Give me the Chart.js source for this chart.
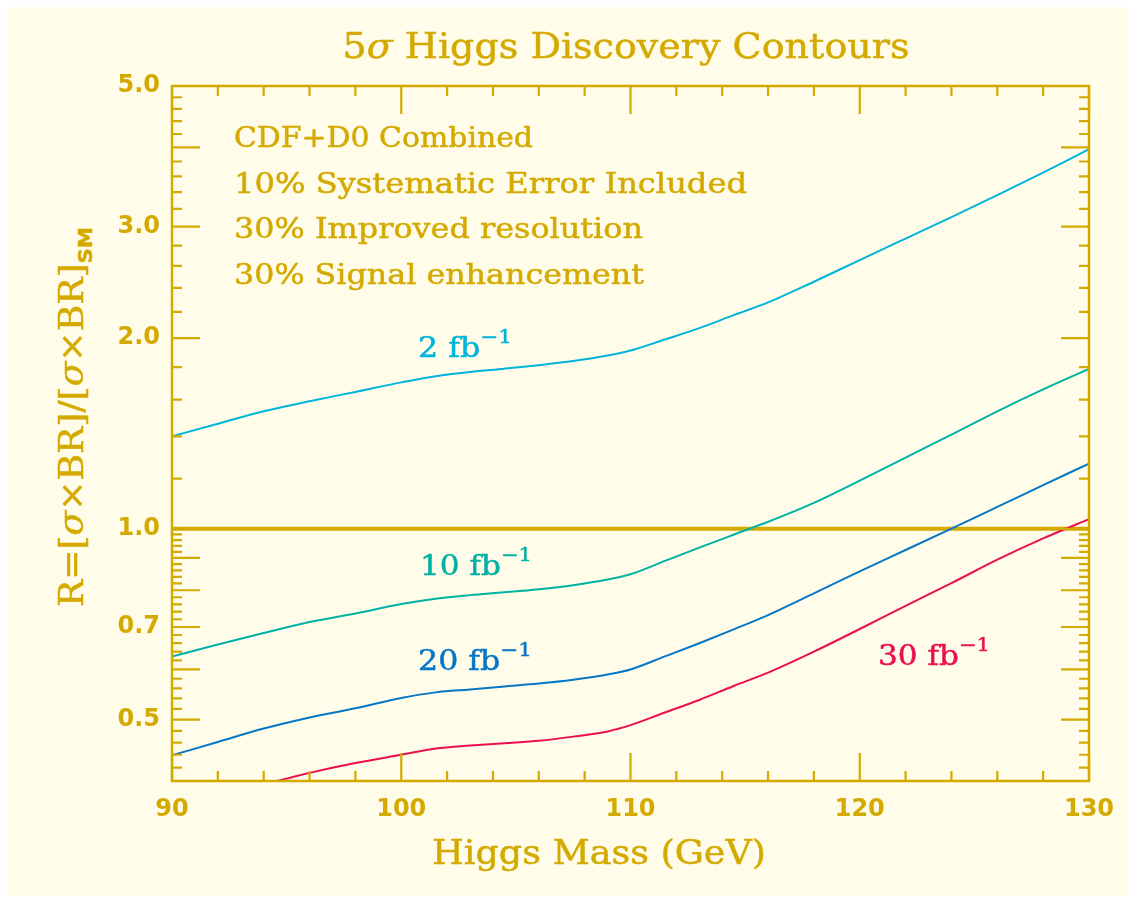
<!DOCTYPE html>
<html>
<head>
<meta charset="utf-8">
<script src="https://cdn.jsdelivr.net/npm/chart.js@4.4.1/dist/chart.umd.min.js"></script>
<style>
  html, body { margin: 0; padding: 0; background: #ffffff; }
  #chart { display: block; }
</style>
</head>
<body>
<canvas id="chart" width="1135" height="903"></canvas>
<script>
// Higgs mass points (GeV)
const massGeV = [90, 92, 94, 96, 98, 100, 101.5, 103, 104.5, 106, 107.5, 109, 110,
  111.5, 113, 114.5, 116, 118, 120, 122, 124, 126, 128, 130];

// R = [sigma x BR] / [sigma x BR]_SM needed for 5 sigma, per luminosity
const r2fb = [1.400, 1.465, 1.533, 1.590, 1.645, 1.703, 1.742, 1.769, 1.790, 1.813, 1.840, 1.877, 1.912,
  1.990, 2.074, 2.174, 2.277, 2.455, 2.656, 2.872, 3.105, 3.362, 3.649, 3.974];
const r10fb = [0.629, 0.657, 0.685, 0.713, 0.735, 0.761, 0.776, 0.786, 0.794, 0.803, 0.815, 0.832, 0.848,
  0.890, 0.934, 0.979, 1.026, 1.099, 1.192, 1.296, 1.408, 1.533, 1.660, 1.789];
const r20fb = [0.439, 0.461, 0.484, 0.504, 0.521, 0.541, 0.552, 0.558, 0.564, 0.570, 0.578, 0.589, 0.600,
  0.629, 0.660, 0.694, 0.731, 0.791, 0.857, 0.926, 1.001, 1.083, 1.172, 1.268];
const r30fb = [null, null, 0.395, 0.412, 0.427, 0.440, 0.450, 0.455, 0.459, 0.463, 0.470, 0.479, 0.490,
  0.513, 0.537, 0.565, 0.593, 0.640, 0.695, 0.756, 0.821, 0.894, 0.966, 1.036];

// R = 1 reference line
const refMass = [90, 130];
const refR = [1.0, 1.0];

// axis ticks
const xTickLabels = [90, 100, 110, 120, 130];
const xMinorTicks = [92, 94, 96, 98, 102, 104, 106, 108, 112, 114, 116, 118, 122, 124, 126, 128];
const yTickLabels = [0.5, 0.7, 1.0, 2.0, 3.0, 5.0];
const yMajorTicks = [0.5, 0.6, 0.7, 0.8, 0.9, 1.0, 2.0, 3.0, 4.0];
const yMinorTicks = [0.42, 0.44, 0.46, 0.48, 0.52, 0.54, 0.56, 0.58, 0.62, 0.64, 0.66, 0.68,
  0.72, 0.74, 0.76, 0.78, 0.82, 0.84, 0.86, 0.88, 0.92, 0.94, 0.96, 0.98,
  1.2, 1.4, 1.6, 1.8, 2.2, 2.4, 2.6, 2.8, 3.2, 3.4, 3.6, 3.8, 4.2, 4.4, 4.6, 4.8];

const GOLD = '#d4aa00';
const CREAM = '#fffcea';
const SERIF = '"DejaVu Serif"';

function pts(ys, xs) {
  xs = xs || massGeV;
  return xs.map((m, i) => ({x: m, y: ys[i]}));
}

// draws a run of text pieces [text, font, dy], stretched to a given width
function drawRich(ctx, parts, x, y, width, align) {
  let total = 0;
  parts.forEach(p => { ctx.font = p[1]; total += ctx.measureText(p[0]).width; });
  const sx = width ? width / total : 1;
  ctx.save();
  ctx.translate(x, y);
  ctx.scale(sx, 1);
  ctx.textBaseline = 'alphabetic';
  ctx.textAlign = 'left';
  ctx.strokeStyle = ctx.fillStyle;
  ctx.lineWidth = 0.5;
  ctx.lineJoin = 'round';
  let cx = align === 'center' ? -total / 2 : 0;
  parts.forEach(p => {
    ctx.font = p[1];
    ctx.fillText(p[0], cx, p[2] || 0);
    ctx.strokeText(p[0], cx, p[2] || 0);
    cx += ctx.measureText(p[0]).width;
  });
  ctx.restore();
}

const background = {
  id: 'background',
  beforeDraw(chart) {
    const ctx = chart.ctx;
    ctx.save();
    ctx.fillStyle = '#ffffff';
    ctx.fillRect(0, 0, chart.width, chart.height);
    ctx.fillStyle = CREAM;
    ctx.fillRect(8, 7, 1120, 889);
    ctx.restore();
  }
};

const frameTicks = {
  id: 'frameTicks',
  afterDatasetsDraw(chart) {
    const ctx = chart.ctx, a = chart.chartArea;
    const xs = chart.scales.x, ys = chart.scales.y;
    ctx.save();
    ctx.strokeStyle = GOLD;
    ctx.lineWidth = 2.2;
    ctx.beginPath();
    const tick = (x1, y1, x2, y2) => { ctx.moveTo(x1, y1); ctx.lineTo(x2, y2); };
    xTickLabels.forEach(v => {
      const px = xs.getPixelForValue(v);
      tick(px, a.bottom, px, a.bottom - 28);
      tick(px, a.top, px, a.top + 28);
    });
    xMinorTicks.forEach(v => {
      const px = xs.getPixelForValue(v);
      tick(px, a.bottom, px, a.bottom - 10);
      tick(px, a.top, px, a.top + 10);
    });
    yMajorTicks.forEach(v => {
      const py = ys.getPixelForValue(v);
      tick(a.left, py, a.left + 28, py);
      tick(a.right, py, a.right - 28, py);
    });
    yMinorTicks.forEach(v => {
      const py = ys.getPixelForValue(v);
      tick(a.left, py, a.left + 10, py);
      tick(a.right, py, a.right - 10, py);
    });
    ctx.stroke();
    ctx.lineWidth = 2.5;
    ctx.strokeRect(a.left, a.top, a.right - a.left, a.bottom - a.top);
    ctx.restore();
  }
};

const texts = {
  id: 'texts',
  afterDraw(chart) {
    const ctx = chart.ctx;
    const f = (s, extra) => (extra ? extra + ' ' : '') + s + 'px ' + SERIF;
    ctx.save();
    ctx.fillStyle = GOLD;

    // title
    drawRich(ctx, [['5', f(36)], ['σ', f(36, 'italic')], [' Higgs Discovery Contours', f(36)]],
      626, 58, 567, 'center');

    // notes
    drawRich(ctx, [['CDF+D0 Combined', f(28)]], 234, 147, 299);
    drawRich(ctx, [['10% Systematic Error Included', f(28)]], 234, 193, 513);
    drawRich(ctx, [['30% Improved resolution', f(28)]], 234, 238, 409);
    drawRich(ctx, [['30% Signal enhancement', f(28)]], 234, 284, 410);

    // x axis title
    drawRich(ctx, [['Higgs Mass (GeV)', f(34)]], 432, 864, 334);

    // y axis title
    ctx.save();
    ctx.translate(83, 607);
    ctx.rotate(-Math.PI / 2);
    drawRich(ctx, [
      ['R=[', f(34)], ['σ', f(34, 'italic')], ['×BR]/[', f(34)], ['σ', f(34, 'italic')], ['×BR]', f(34)],
      ['SM', 'bold 20px "DejaVu Sans"', 9]
    ], 0, 0, 380);
    ctx.restore();

    // curve labels
    const lab = (txt, color, x, y, w) => {
      ctx.fillStyle = color;
      drawRich(ctx, [[txt, f(28)], ['−1', f(19), -14]], x, y, w);
    };
    lab('2 fb', chart.data.datasets[0].borderColor, 418, 357, 94);
    lab('10 fb', chart.data.datasets[1].borderColor, 420, 575, 112);
    lab('20 fb', chart.data.datasets[2].borderColor, 418, 670, 114);
    lab('30 fb', chart.data.datasets[3].borderColor, 878, 665, 112);
    ctx.restore();
  }
};

const tickFont = {family: 'DejaVu Sans', size: 24, weight: 'bold'};

new Chart(document.getElementById('chart'), {
  type: 'line',
  data: {
    datasets: [
      {label: '2 fb-1', data: pts(r2fb), borderColor: '#00b4da', borderWidth: 2},
      {label: '10 fb-1', data: pts(r10fb), borderColor: '#00b2a4', borderWidth: 2},
      {label: '20 fb-1', data: pts(r20fb), borderColor: '#0577c6', borderWidth: 2},
      {label: '30 fb-1', data: pts(r30fb), borderColor: '#ea1050', borderWidth: 2},
      {label: 'R = 1', data: pts(refR, refMass), borderColor: GOLD, borderWidth: 4}
    ]
  },
  options: {
    responsive: false,
    devicePixelRatio: 1,
    animation: false,
    layout: {padding: {top: 86, right: 46, left: 0, bottom: 0}},
    elements: {
      point: {radius: 0},
      line: {tension: 0.3, cubicInterpolationMode: 'monotone', fill: false}
    },
    datasets: {line: {clip: 0}},
    plugins: {legend: {display: false}, tooltip: {enabled: false}, title: {display: false}},
    scales: {
      x: {
        type: 'linear', min: 90, max: 130,
        afterBuildTicks: s => { s.ticks = xTickLabels.map(v => ({value: v})); },
        afterFit: s => { s.height = 122; },
        grid: {display: false}, border: {display: false},
        ticks: {color: GOLD, font: tickFont, padding: 6, maxRotation: 0, autoSkip: false,
          callback: v => String(v)}
      },
      y: {
        type: 'logarithmic', min: 0.4, max: 5.0,
        afterBuildTicks: s => { s.ticks = yTickLabels.map(v => ({value: v})); },
        afterFit: s => { s.width = 172; },
        grid: {display: false}, border: {display: false},
        ticks: {color: GOLD, font: tickFont, padding: 4, autoSkip: false,
          callback: v => Number(v).toFixed(1)}
      }
    }
  },
  plugins: [background, frameTicks, texts]
});
</script>
</body>
</html>
